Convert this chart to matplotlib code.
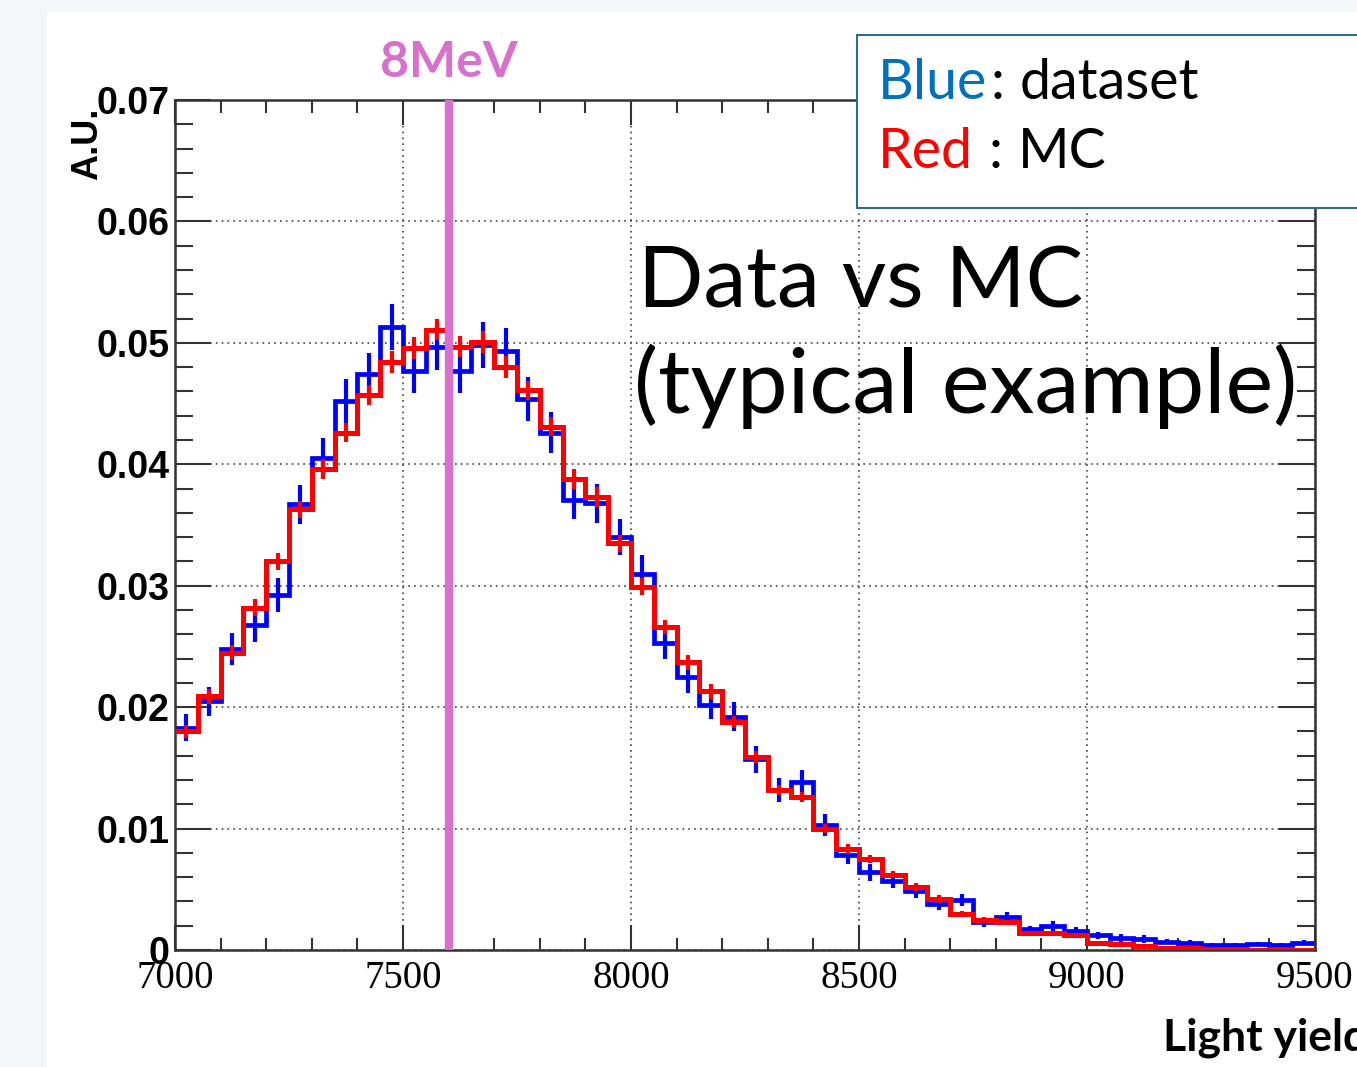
import numpy as np
import matplotlib
matplotlib.use("Agg")
import matplotlib.pyplot as plt
from matplotlib.patches import Rectangle
from matplotlib.ticker import MultipleLocator, FixedLocator

W, H = 1357, 1067

# histogram binning (50 bins of 50 units)
bin_edges = np.linspace(7000, 9500, 51)

# blue: dataset
data_vals = [0.0183, 0.0205, 0.0248, 0.0268, 0.0292, 0.0367, 0.0405, 0.0452, 0.0474, 0.0513,
             0.0477, 0.0497, 0.0477, 0.0498, 0.0493, 0.0454, 0.0426, 0.0371, 0.0368, 0.0340,
             0.0310, 0.0253, 0.0225, 0.0202, 0.0192, 0.0157, 0.0132, 0.0138, 0.0103, 0.0078,
             0.0064, 0.0057, 0.0049, 0.0038, 0.0041, 0.0023, 0.0027, 0.0017, 0.0020, 0.0016,
             0.0012, 0.0010, 0.0009, 0.0007, 0.0006, 0.0004, 0.0004, 0.0005, 0.0004, 0.0006]
data_err = [0.0011, 0.0012, 0.0013, 0.0014, 0.0014, 0.0016, 0.0017, 0.0018, 0.0018, 0.0019,
            0.0018, 0.0019, 0.0018, 0.0019, 0.0019, 0.0018, 0.0017, 0.0016, 0.0016, 0.0015,
            0.0015, 0.0013, 0.0013, 0.0012, 0.0012, 0.0011, 0.0010, 0.0010, 0.0009, 0.0007,
            0.0007, 0.0006, 0.0006, 0.0005, 0.0005, 0.0004, 0.0004, 0.0003, 0.0004, 0.0003,
            0.0003, 0.0003, 0.0003, 0.0002, 0.0002, 0.0002, 0.0002, 0.0002, 0.0002, 0.0002]

# red: MC
mc_vals = [0.0180, 0.0209, 0.0245, 0.0282, 0.0320, 0.0363, 0.0396, 0.0426, 0.0457, 0.0484,
           0.0496, 0.0511, 0.0497, 0.0501, 0.0480, 0.0461, 0.0431, 0.0388, 0.0373, 0.0335,
           0.0299, 0.0266, 0.0237, 0.0213, 0.0188, 0.0159, 0.0132, 0.0126, 0.0100, 0.0083,
           0.0075, 0.0062, 0.0052, 0.0042, 0.0030, 0.0025, 0.0023, 0.0014, 0.0014, 0.0012,
           0.0006, 0.0005, 0.0003, 0.0002, 0.0002, 0.0001, 0.0001, 0.0000, 0.0001, 0.0000]
mc_err = [0.0005, 0.0006, 0.0006, 0.0007, 0.0007, 0.0007, 0.0008, 0.0008, 0.0008, 0.0009,
          0.0009, 0.0009, 0.0009, 0.0009, 0.0009, 0.0008, 0.0008, 0.0008, 0.0008, 0.0007,
          0.0007, 0.0006, 0.0006, 0.0006, 0.0005, 0.0005, 0.0004, 0.0004, 0.0004, 0.0004,
          0.0003, 0.0003, 0.0003, 0.0003, 0.0002, 0.0002, 0.0002, 0.0001, 0.0001, 0.0001,
          0.0001, 0.0001, 0.0001, 0.0001, 0.0001, 0.0000, 0.0000, 0.0000, 0.0000, 0.0000]

marker_x = 7600
y_ticks = [0, 0.01, 0.02, 0.03, 0.04, 0.05, 0.06, 0.07]
y_labels = ["0", "0.01", "0.02", "0.03", "0.04", "0.05", "0.06", "0.07"]
x_ticks = [7000, 7500, 8000, 8500, 9000, 9500]

BLUE = "#0000ff"
RED = "#ff0000"
ORCHID = "#d870cc"


def fx(x):
    return x / W


def fy(y):
    return 1 - y / H


centers = 0.5 * (bin_edges[:-1] + bin_edges[1:])

fig = plt.figure(figsize=(W / 100, H / 100), dpi=100, facecolor="#f3f5f9")
fig.add_artist(Rectangle((fx(47), 0), 1 - fx(47), fy(11), transform=fig.transFigure,
                         facecolor="white", edgecolor="none", zorder=-1))

ax = fig.add_axes([fx(175), fy(950), 1140 / W, 850 / H])

ax.stairs(data_vals, bin_edges, color=BLUE, lw=3.4, baseline=None, zorder=2)
ax.errorbar(centers, data_vals, yerr=data_err, fmt="none", ecolor=BLUE, elinewidth=3, capsize=0, zorder=2)
ax.stairs(mc_vals, bin_edges, color=RED, lw=3.6, baseline=None, zorder=3)
ax.errorbar(centers, mc_vals, yerr=mc_err, fmt="none", ecolor=RED, elinewidth=3, capsize=0, zorder=3)
ax.axvline(marker_x, color=ORCHID, lw=6, zorder=5)

ax.set_xlim(bin_edges[0], bin_edges[-1])
ax.set_ylim(0, 0.07)
ax.xaxis.set_major_locator(FixedLocator(x_ticks))
ax.xaxis.set_minor_locator(MultipleLocator(100))
ax.yaxis.set_major_locator(FixedLocator(y_ticks))
ax.yaxis.set_minor_locator(MultipleLocator(0.002))
ax.set_yticklabels(y_labels)

ax.tick_params(which="both", direction="in", top=True, right=True, width=1.5, color="#333333")
ax.tick_params(axis="x", which="major", length=18, pad=7, labelsize=28)
ax.tick_params(axis="x", which="minor", length=9)
ax.tick_params(axis="y", which="major", length=26, pad=4, labelsize=27)
ax.tick_params(axis="y", which="minor", length=13)
for lab in ax.get_xticklabels():
    lab.set_fontfamily("Liberation Serif")
for lab in ax.get_yticklabels():
    lab.set_fontfamily("Liberation Sans")
    lab.set_fontweight("bold")

ax.grid(True, which="major", linestyle=(0, (1, 2.5)), color="#444444", lw=1.2)
for s in ax.spines.values():
    s.set_linewidth(1.8)
    s.set_color("#333333")

# axis titles
fig.text(fx(88), fy(108), "A.U.", rotation=90, ha="center", va="top",
         fontsize=26, fontweight="bold", family="Liberation Sans")
fig.text(fx(1163), fy(1050), "Light yield", ha="left", va="baseline",
         fontsize=32, fontweight="bold", family="Lato")

# marker label
fig.text(fx(449), fy(77), "8MeV", ha="center", va="baseline",
         fontsize=36, fontweight="bold", family="Lato", color=ORCHID)

# annotation
fig.text(fx(638), fy(308), "Data vs MC", ha="left", va="baseline", fontsize=62, family="Lato")
fig.text(fx(634), fy(413), "(typical example)", ha="left", va="baseline", fontsize=65, family="Lato")

# legend box
fig.add_artist(Rectangle((fx(857), fy(208)), 1, (208 - 35) / H, transform=fig.transFigure,
                         facecolor="white", edgecolor="#2e6b8c", lw=1.5, zorder=10))
tkw = dict(ha="left", va="baseline", fontsize=40, family="Lato", zorder=11)
fig.text(fx(878), fy(99), "Blue", color="#0070c0", **tkw)
fig.text(fx(990), fy(99), ":", color="black", **tkw)
fig.text(fx(1020), fy(99), "dataset", color="black", **tkw)
fig.text(fx(878), fy(168), "Red", color=RED, **tkw)
fig.text(fx(988), fy(168), ":", color="black", **tkw)
fig.text(fx(1018), fy(168), "MC", color="black", **tkw)

fig.savefig("out.png", dpi=100, facecolor=fig.get_facecolor())
